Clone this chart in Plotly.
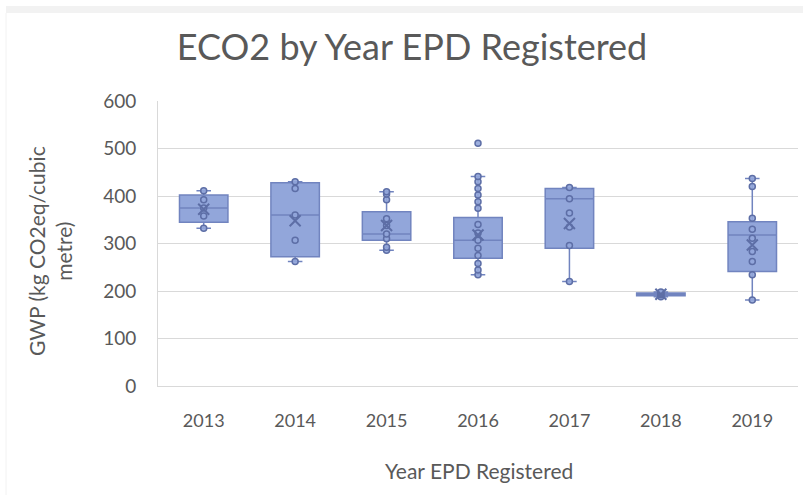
import plotly.graph_objects as go

# Year each EPD was registered (category axis)
years = ["2013", "2014", "2015", "2016", "2017", "2018", "2019"]

# Box-and-whisker summary statistics, GWP in kg CO2eq per cubic metre
lower_whisker = [332, 262, 286, 234, 220, 188, 181]
q1_values     = [345, 272, 307, 269, 290, 190, 241]
median_values = [375, 360, 320, 307, 394, 193, 318]
q3_values     = [402, 428, 367, 355, 416, 196, 346]
upper_whisker = [411, 430, 409, 441, 418, 198, 437]
mean_values   = [372, 348, 338, 318, 342, 193, 297]

# Individual EPD values shown as inner points / outliers
points_2013 = [332, 358, 375, 392, 411]
points_2014 = [262, 307, 360, 416, 430]
points_2015 = [286, 292, 310, 320, 338, 352, 392, 404, 409]
points_2016 = [234, 244, 258, 275, 290, 307, 322, 340, 374, 388, 402, 416, 430, 441, 511]
points_2017 = [220, 296, 335, 364, 394, 418]
points_2018 = [188, 192, 194, 198]
points_2019 = [181, 234, 262, 283, 311, 330, 353, 420, 437]

point_sets = [points_2013, points_2014, points_2015, points_2016,
              points_2017, points_2018, points_2019]

y_ticks = [0, 100, 200, 300, 400, 500, 600]

BOX_FILL = "rgba(146,166,218,1)"
BOX_LINE = "#7184bf"
POINT_LINE = "#5d6ea6"
TEXT_GREY = "#595959"
GRID = "#d9d9d9"
FONT = "Lato, 'Open Sans', sans-serif"

fig = go.Figure()

fig.add_trace(go.Box(
    x=years,
    q1=q1_values,
    median=median_values,
    q3=q3_values,
    lowerfence=lower_whisker,
    upperfence=upper_whisker,
    fillcolor=BOX_FILL,
    line=dict(color=BOX_LINE, width=1.5),
    whiskerwidth=0.3,
    width=0.53,
    boxpoints=False,
    hoverinfo="skip",
    showlegend=False,
))

px_x, px_y = [], []
for yr, vals in zip(years, point_sets):
    px_x.extend([yr] * len(vals))
    px_y.extend(vals)

fig.add_trace(go.Scatter(
    x=px_x, y=px_y, mode="markers",
    marker=dict(symbol="circle", size=6, color="rgba(146,166,218,0.9)",
                line=dict(color=POINT_LINE, width=1.5)),
    showlegend=False, hoverinfo="y",
))

fig.add_trace(go.Scatter(
    x=years, y=mean_values, mode="markers",
    marker=dict(symbol="x-thin-open", size=11, color=POINT_LINE,
                line=dict(color=POINT_LINE, width=2)),
    showlegend=False, hoverinfo="y",
))

L, R, T, B = 158, 9, 101, 109
W, H = 807, 495
pw, ph = W - L - R, H - T - B


def xp(px):
    return (px - L) / pw


def yp(py):
    return (H - B - py) / ph


fig.update_layout(
    width=W, height=H,
    margin=dict(l=L, r=R, t=T, b=B, pad=0),
    paper_bgcolor="white",
    plot_bgcolor="white",
    font=dict(family=FONT, color=TEXT_GREY),
    title=dict(text="ECO2 by Year EPD Registered",
               x=xp(412), xref="paper", xanchor="center",
               y=1 - 47 / H, yref="container", yanchor="middle",
               font=dict(size=36, color=TEXT_GREY, family=FONT)),
    xaxis=dict(
        type="category",
        categoryorder="array", categoryarray=years,
        showgrid=False,
        showline=True, linecolor=GRID, linewidth=1,
        ticks="", ticklabelstandoff=18,
        tickfont=dict(size=18, color=TEXT_GREY),
        range=[-0.5, 6.5],
        zeroline=False,
    ),
    yaxis=dict(
        range=[0, 600],
        tickvals=y_ticks,
        showgrid=True, gridcolor=GRID, gridwidth=1,
        showline=True, linecolor=GRID, linewidth=1,
        ticks="", ticklabelstandoff=17,
        tickfont=dict(size=19, color=TEXT_GREY),
        zeroline=False,
    ),
    shapes=[
        dict(type="rect", xref="paper", yref="paper",
             x0=xp(6), x1=xp(803), y0=yp(13), y1=yp(6),
             fillcolor="#f2f2f2", line=dict(width=0), layer="below"),
        dict(type="line", xref="paper", yref="paper",
             x0=xp(6), x1=xp(6), y0=yp(495), y1=yp(13),
             line=dict(color="#f2f2f2", width=1), layer="below"),
    ],
    annotations=[
        dict(text="GWP (kg CO2eq/cubic<br>metre)",
             xref="paper", yref="paper",
             x=xp(50), y=yp(251), xanchor="center", yanchor="middle",
             textangle=-90, showarrow=False,
             font=dict(size=21, color=TEXT_GREY, family=FONT)),
        dict(text="Year EPD Registered",
             xref="paper", yref="paper",
             x=xp(479), y=yp(470), xanchor="center", yanchor="middle",
             showarrow=False,
             font=dict(size=21, color=TEXT_GREY, family=FONT)),
    ],
)

fig.write_html("out.html")
